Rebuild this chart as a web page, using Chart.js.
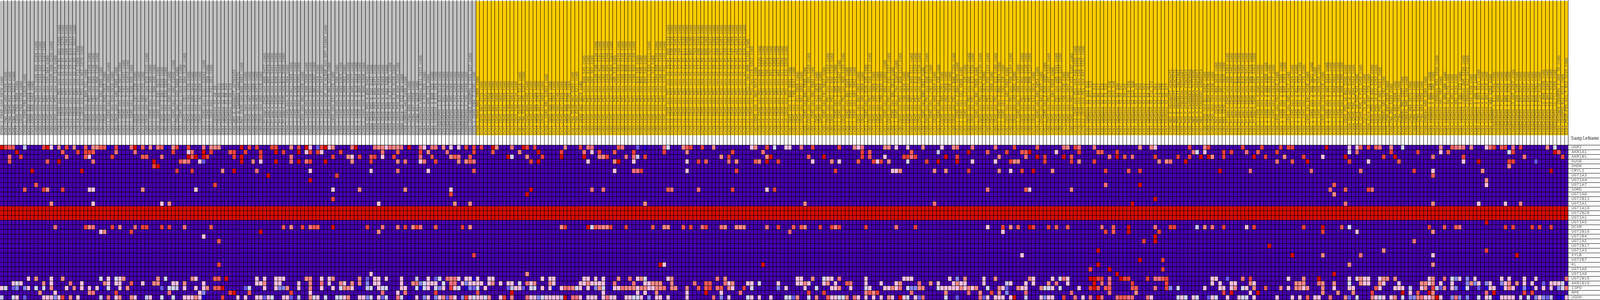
<!DOCTYPE html>
<html>
<head>
<meta charset="utf-8">
<title>Heat map</title>
<script src="https://cdn.jsdelivr.net/npm/chart.js@4/dist/chart.umd.min.js"></script>
<style>
html, body { margin: 0; padding: 0; background: #fff; overflow: hidden; }
canvas { display: block; }
</style>
</head>
<body>
<canvas id="heatmap" width="5044" height="768"></canvas>
<script>
// color ramp of the heat map, level 0 to level 11
var palette = ['#4500AD','#2700D1','#6B58EF','#8888FF','#C7C1FF','#D5D5FF','#FFC0E5','#FF8989','#FF7080','#FF5A5A','#EF4040','#D60C00'];

// samples, read in blocks of 103 columns
var samples0 = ['CY58_1_CD45_A10_S970_comb','Cy81_FNA_CD45_A02_S194_comb','Cy81_FNA_CD45_H12_S288_comb','Cy81_FNA_CD45_C11_S227_comb','Cy72_CD45_C02_S698_comb','Cy72_CD45_F03_S735_comb','CY58_1_CD45_F06_S1026_comb','Cy72_CD45_E03_S723_comb','Cy74_CD45_G06_S462_comb',
'cy80.Cd45.pos.PD1.pos.S189.H09.S189.comb','cy80.Cd45.pos.Pd1.neg.S194.A02.S194.comb','cy80.Cd45.pos.PD1.pos.S167.G11.S167.comb','cy80.Cd45.pos.PD1.pos.C04.S64.comb','cy80.Cd45.pos.Pd1.neg.S249.C09.S249.comb','cy80.Cd45.pos.PD1.pos.A12.S24.comb',
'cy79.p1.CD45.pos.PD1.pos.AS.C5.R1.G01.S265.comb','cy79.p1.CD45.pos.PD1.pos.AS.C5.R1.G06.S270.comb','cy79.p3.CD45.pos.PD1.pos.AS.C2.R1.G08.S464.comb','cy79.p1.CD45.pos.PD1.pos.AS.C5.R1.B10.S214.comb','cy79.p1.CD45.pos.PD1.neg.AS.C1.R2.D11.S527.comb',
'cy79.p4.CD45.pos.PD1.pos.F12.S360.comb','cy79.p4.CD45.pos.PD1.pos.H07.S379.comb','cy82.CD45.pos.3.B09.S21.comb','cy80.CD45.pos.PD1.pos.E05.S149.comb','cy80.CD45.pos.PD1.pos.E04.S148.comb','cy80.CD45.pos.PD1.pos.H06.S186.comb',
'cy82.CD45.pos.2.G03.S555.comb','cy72.CD45.pos.E03.S915.comb','cy53.1.CD45.pos.2.A09.S969.comb','cy82.CD45.pos.D10.S910.comb','cy82.CD45.pos.2.A05.S485.comb','cy53.1.CD45.pos.2.B05.S977.comb','cy53.1.CD45.pos.2.F07.S1027.comb','cy53.1.CD45.pos.2.E07.S1015.comb','cy53.1.CD45.pos.1.E08.S56.comb',
'cy74.CD45.pos.F07.S739.comb','cy74.CD45.pos.E11.S731.comb','cy74.CD45.pos.G09.S753.comb','cy80.CD45.pos.PD1.pos.D10.S142.comb','cy53.1.CD45.pos.1.E12.S60.comb','cy53.1.CD45.pos.1.D09.S45.comb','cy58.1.CD45.pos.E01.S625.comb','cy82.CD45.pos.2.D04.S520.comb','cy82.CD45.pos.2.B10.S502.comb','cy72.CD45.pos.E05.S917.comb',
'cy53.1.CD45.pos.2.H02.S1046.comb','cy82.CD45.pos.2.A10.S490.comb','cy53.1.CD45.pos.1.H10.S94.comb','cy80.CD45.pos.PD1.pos.D04.S136.comb','cy74.CD45.pos.F04.S736.comb','cy74.CD45.pos.G08.S944.comb','cy58.CD45.pos.E11.S635.comb','cy72.CD45.pos.C02.S698.comb','cy53.1.CD45.pos.2.G11.S1043.comb','cy53.1.CD45.pos.1.E11.S59.comb','cy53.1.CD45.pos.1.F01.S61.comb',
'CY67_CD45pos_S2_A9_S9','CY67_CD45pos_S2_B9_S21','CY67_CD45pos_S2_D3_S39','CY67_CD45pos_S2_D8_S44','CY67_CD45pos_S2_G6_S78','CY65_NBS_E_AGAGGATT_ACTGTATC','CY65_POS_H_CAAGGGA_CAACTCTC',
'cy84.Met.CD45.pos.B05.S881.comb','cy80.CD45.neg.C12.S468.comb','cy80.CD45.neg.A07.S391.comb','cy80.CD45.neg.A05.S389.comb','cy80.CD45.neg.H03.S471.comb','cy80.CD45.neg.D09.S429.comb',
'CY84_Primary_CD45_pos_H09_S477_comb','CY84_Primary_CD45_pos_H02_S470_comb','CY84_Primary_CD45_pos_D11_S431_comb','CY84_Primary_CD45_pos_E09_S441_comb','CY84_Primary_CD45_pos_G12_S468_comb','CY84_Primary_CD45_pos_B12_S406_comb',
'CY60_1_cd45_pos_4_G12_S84_comb','CY60_1_cd45_pos_3_H11_S383_comb','CY60_1_cd45_pos_3_C05_S317_comb','CY60_1_cd45_pos_3_E09_S351_comb','CY88_cd45_pos_G02_S458_comb','CY60_1_cd45_pos_3_B06_S306_comb','CY60_1_cd45_pos_3_E02_S338_comb','CY60_1_cd45_pos_3_B07_S307_comb','CY60_1_cd45_pos_4_B12_S24_comb','CY60_1_cd45_pos_4_D11_S47_comb',
'CY60_1_cd45_pos_HC_pos_HLDAR_pos_DOT_S1003_comb','CY60_1_cd45_pos_3_H01_S373_comb','CY88_cd45_pos_E11_S443_comb','CY60_1_cd45_pos_4_H02_S86_comb','CY60_1_cd45_pos_3_G03_S363_comb','CY60_1_cd45_pos_4_H09_S93_comb','CY60_1_cd45_pos_3_F11_S359_comb','CY60_1_cd45_pos_3_H05_S377_comb','CY60_1_cd45_pos_3_B10_S310_comb','CY60_1_cd45_pos_3_B04_S304_comb','CY60_1_cd45_pos_3_B08_S308_comb',
'CY89A_CD45_POS_4_B06_S402_comb','CY89A_CD45_POS_6_C07_S127_comb','CY89A_CD45_POS_4_H03_S471_comb','CY89A_CD45_POS_4_E09_S441_comb','CY89A_CD45_POS_4_A05_S389_comb','CY89A_CD45_POS_4_A02_S386_comb','CY89A_CD45_POS_10_E11_S251_comb'];

var samples1 = ['CY89A_CD45_POS_6_C09_S129_comb','CY89A_CD45_POS_10_E04_S244_comb','CY89A_Core_15_F12_S60_comb','CY89_CORE01_A02_S290_comb','CY75_1FNA_G09_S561_comb','CY75_1FNA_G07_S559_comb','CY75_1FNA_H11_S575_comb','CY94_cd45neg_cd90pos_B11_S311_comb','CY94_cd45pos_4_C01_S25_comb','CY94_cd45pos_G08_S176_comb','CY94_cd45pos_4_B08_S20_comb','CY94_cd45pos_4_E11_S59_comb',
'CY94CD45POS_1_B10_S118_comb','CY94CD45POS_1_E01_S145_comb','CY94CD45POS_1_H02_S182_comb','CY88CD45POS_7_G05_S269_comb','CY88CD45POS_7_F07_S259_comb','CY94CD45POS_1_C12_S132_comb','CY88CD45POS_2_F11_S455_comb','CY88CD45POS_2_F05_S449_comb','CY94_CD45NEG_CD90POS_2_C03_S27_comb','CY75_1_CD45_CD8_7_S205_comb',
'CY58_1_CD45_D03_S999_comb','Cy72_CD45_D07_S715_comb','Cy71_CD45_E03_S531_comb','Cy71_CD45_G06_S558_comb','Cy74_CD45_G02_S458_comb','Cy72_CD45_B02_S686_comb','Cy72_CD45_A11_S683_comb','Cy71_CD45_C01_S505_comb','Cy72_CD45_F05_S737_comb','Cy74_CD45_G08_S464_comb','Cy72_CD45_F02_S734_comb','Cy81_FNA_CD45_C02_S218_comb','Cy81_FNA_CD45_A05_S197_comb',
'Cy74_CD45_B06_S402_comb','Cy72_CD45_D04_S712_comb','Cy72_CD45_G06_S750_comb','Cy72_CD45_G07_S753_comb','Cy72_CD45_A12_S684_comb','CY58_1_CD45_G01_S1033_comb','Cy71_CD45_H09_S573_comb','Cy71_CD45_A09_S581_comb','Cy72_CD45_G02_S746_comb','Cy71_CD45_G07_S559_comb','Cy72_CD45_E05_S725_comb','Cy72_CD45_C09_S705_comb','Cy81_FNA_CD45_H07_S283_comb','Cy81_FNA_CD45_B07_S211_comb','Cy72_CD45_A02_S674_comb',
'cy80.Cd45.pos.PD1.pos.B09.S45.comb','cy80.Cd45.pos.PD1.pos.A05.S17.comb','cy80.Cd45.pos.PD1.pos.D07.S67.comb','cy80.Cd45.pos.PD1.pos.S136.F06.S136.comb','cy80.Cd45.pos.PD1.pos.S191.H11.S191.comb','cy80.Cd45.pos.PD1.pos.S162.G06.S162.comb','cy80.Cd45.pos.Pd1.neg.S340.G04.S340.comb','cy80.Cd45.pos.Pd1.neg.S364.H04.S364.comb','cy80.Cd45.pos.PD1.pos.A06.S18.comb','cy80.Cd45.pos.Pd1.neg.S243.C03.S243.comb','cy80.Cd45.pos.PD1.pos.S166.G10.S166.comb',
'cy80.Cd45.pos.Pd1.neg.S225.B09.S225.comb','cy80.Cd45.pos.Pd1.neg.S290.E02.S290.comb','cy80.Cd45.pos.PD1.pos.S160.G04.S160.comb','cy80.Cd45.pos.PD1.pos.B10.S46.comb','cy80.Cd45.pos.PD1.pos.B02.S38.comb','cy80.Cd45.pos.PD1.pos.B04.S40.comb','cy80.Cd45.pos.PD1.pos.S111.E03.S111.comb','cy80.Cd45.pos.PD1.pos.A11.S23.comb','cy80.Cd45.pos.Pd1.neg.S344.G08.S344.comb','cy80.Cd45.pos.PD1.pos.S109.E01.S109.comb','cy80.Cd45.pos.PD1.pos.S143.F01.S143.comb',
'cy79.p3.CD45.pos.PD1.pos.AS.C5.R1.D05.S233.comb','cy79.p3.CD45.pos.PD1.pos.AS.C2.R1.C08.S416.comb','cy79.p3.CD45.pos.PD1.pos.AS.C2.R1.F08.S452.comb','cy79.p3.CD45.pos.PD1.pos.AS.C2.R1.C04.S412.comb','cy79.p1.CD45.pos.PD1.neg.AS.C1.R2.E11.S539.comb','cy79.p3.CD45.pos.PD1.pos.AS.C2.R1.B12.S408.comb','cy79.p1.CD45.pos.PD1.pos.AS.C5.R1.B02.S206.comb','cy79.p1.CD45.pos.PD1.pos.AS.C5.R1.F03.S255.comb','cy79.p3.CD45.pos.PD1.pos.AS.C2.R1.E08.S440.comb','cy79.p1.CD45.pos.PD1.neg.AS.C1.R2.D02.S518.comb','cy79.p3.CD45.pos.PD1.pos.AS.C2.R1.B06.S498.comb',
'cy79.p1.CD45.pos.PD1.neg.AS.C1.R2.F07.S547.comb','cy79.p1.CD45.pos.PD1.pos.AS.C5.R1.A11.S395.comb','cy79.p1.CD45.pos.PD1.neg.AS.C1.R2.E08.S536.comb','cy79.p1.CD45.pos.PD1.pos.AS.C5.R1.H11.S287.comb','cy79.p1.CD45.pos.PD1.pos.AS.C5.R1.C03.S219.comb','cy79.p3.CD45.pos.PD1.pos.AS.C2.R1.F11.S455.comb','cy79.p1.CD45.pos.PD1.pos.AS.C5.R1.F07.S259.comb','cy79.p1.CD45.pos.PD1.pos.AS.C5.R1.A02.S194.comb','cy79.p1.CD45.pos.PD1.pos.AS.C5.R1.G10.S274.comb','cy79.p3.CD45.pos.PD1.pos.AS.C2.R1.D10.S430.comb',
'cy79.p1.CD45.pos.PD1L1.neg.D09.S1101.comb','cy79.p4.CD45.pos.PD1.neg.C10.S322.comb','cy82.CD45.pos.1.H09.S573.comb','cy79.p4.CD45.pos.PD1.pos.D06.S330.comb','cy79.p4.CD45.pos.PD1.pos.E01.S337.comb','cy79.p4.CD45.pos.PD1.pos.C06.S316.comb','cy79.p4.CD45.pos.PD1.pos.D01.S318.comb','cy79.p4.CD45.pos.PD1.pos.F10.S358.comb','cy79.p4.CD45.pos.PD1.pos.H02.S374.comb','cy79.p4.CD45.pos.PD1.pos.A11.S299.comb'];

var samples2 = ['cy79.p4.CD45.pos.PD1.pos.E10.S346.comb','cy82.CD45.pos.1.B09.S501.comb','cy82.CD45.pos.1.F09.S537.comb','cy72.CD45.pos.H11.S959.comb','cy72.CD45.pos.B07.S883.comb','cy58.1.CD45.pos.B02.S590.comb','cy80.CD45.pos.PD1.pos.G01.S169.comb','cy58.1.CD45.pos.H02.S662.comb','cy72.CD45.pos.A12.S876.comb','cy72.CD45.pos.A04.S868.comb',
'cy58.1.CD45.pos.F01.S637.comb','cy80.CD45.pos.PD1.pos.F07.S163.comb','cy80.CD45.pos.PD1.pos.E02.S146.comb','cy53.1.CD45.pos.1.D05.S41.comb','cy53.1.CD45.pos.2.D05.S1037.comb','cy80.CD45.pos.PD1.pos.H03.S183.comb','cy58.1.CD45.pos.B07.S595.comb','cy58.1.CD45.pos.C11.S611.comb','cy58.1.CD45.pos.G04.S652.comb','cy72.CD45.pos.D07.S907.comb','cy72.CD45.pos.A05.S869.comb',
'cy53.1.CD45.pos.1.D10.S46.comb','cy80.CD45.pos.PD1.pos.C03.S123.comb','cy72.CD45.pos.A08.S880.comb','cy74.CD45.pos.C11.S707.comb','cy72.CD45.pos.F09.S933.comb','cy53.1.CD45.pos.2.B03.S1003.comb','cy80.CD45.pos.PD1.pos.F01.S157.comb','cy58.1.CD45.pos.D01.S613.comb','cy53.1.CD45.pos.2.F04.S1024.comb','cy80.CD45.pos.PD1.pos.B09.S117.comb',
'cy72.CD45.pos.F06.S930.comb','cy72.CD45.pos.G09.S921.comb','cy80.CD45.pos.PD1.pos.E03.S111.comb','cy80.CD45.pos.PD1.pos.E10.S154.comb','cy80.CD45.pos.PD1.pos.C06.S126.comb','cy58.1.CD45.pos.B09.S597.comb','cy80.CD45.pos.PD1.pos.G08.S176.comb','cy53.1.CD45.pos.1.F07.S67.comb','cy72.CD45.pos.H06.S954.comb','cy53.1.CD45.pos.1.C12.S36.comb',
'cy74.CD45.pos.G05.S761.comb','cy72.CD45.pos.H02.S950.comb','cy72.CD45.pos.F12.S936.comb','cy80.CD45.pos.PD1.pos.E06.S150.comb','cy53.1.CD45.pos.2.B04.S976.comb','cy58.1.CD45.pos.A12.S588.comb','cy53.1.CD45.pos.1.C11.S35.comb','cy80.CD45.pos.PD1.pos.D05.S137.comb','cy80.CD45.pos.PD1.pos.E12.S156.comb','cy58.1.CD45.pos.B01.S589.comb',
'cy80.CD45.pos.PD1.pos.C10.S130.comb','cy72.CD45.pos.A10.S874.comb','cy80.CD45.pos.PD1.pos.C02.S122.comb','cy72.CD45.pos.E12.S888.comb','cy80.CD45.pos.PD1.pos.G12.S180.comb','cy53.1.CD45.pos.2.B02.S974.comb','cy53.1.CD45.pos.1.C02.S26.comb','cy82.CD45.pos.2.A02.S482.comb','cy80.CD45.pos.PD1.pos.F08.S164.comb','cy72.CD45.pos.C03.S891.comb',
'cy53.1.CD45.pos.1.G05.S77.comb','cy80.CD45.pos.PD1.pos.H02.S182.comb','cy80.CD45.pos.PD1.pos.D06.S138.comb','cy80.CD45.pos.PD1.pos.B06.S114.comb','cy72.CD45.pos.E12.S924.comb','cy58.1.CD45.pos.G05.S653.comb','cy74.CD45.pos.B03.S687.comb','cy53.1.CD45.pos.2.B10.S982.comb','cy80.CD45.pos.PD1.pos.A07.S103.comb','cy82.CD45.pos.2.G04.S556.comb',
'cy80.CD45.pos.PD1.pos.A05.S101.comb','cy80.CD45.pos.PD1.pos.E03.S147.comb','cy74.CD45.pos.F06.S738.comb','cy72.CD45.pos.G11.S947.comb','cy80.CD45.pos.PD1.pos.A11.S107.comb','cy79.p3.CD45.pos.PD1.neg.F09.S165.comb','cy79.p3.CD45.pos.PD1.neg.C09.S129.comb','cy79.p3.CD45.pos.PD1.neg.E07.S151.comb',
'CY67_CD45pos_S2_A12_S12','CY67_CD45pos_S2_B11_S23','CY67_CD45pos_S2_B3_S15','CY67_CD45pos_S2_B5_S17','CY67_CD45pos_S2_B7_S19','CY67_CD45pos_S2_C8_S32','CY67_CD45pos_S2_D10_S46','CY67_CD45pos_S2_D12_S48','CY67_CD45pos_S2_D4_S40','CY67_CD45pos_S2_D5_S41','CY67_CD45pos_S2_D9_S45','CY67_CD45pos_S2_E10_S58','CY67_CD45pos_S2_E12_S60','CY67_CD45pos_S2_E1_S49','CY67_CD45pos_S2_E2_S50','CY67_CD45pos_S2_E4_S52','CY67_CD45pos_S2_E9_S57','CY67_CD45pos_S2_F12_S72','CY67_CD45pos_S2_F1_S61','CY67_CD45pos_S2_F9_S69','CY67_CD45pos_S2_G3_S75','CY67_CD45pos_S2_G5_S77',
'CY65_NBS_E_AGAAGATT_ACGCAATC','CY65_NBS_E_AGAAGATT_ACACTCTC'];

var samples3 = ['CY65_POS_E_AGGTGCTT_TGCTTGGT','CY65_POS_F_ATGCGCAA_TGTCAAGT','CY65_POS_F_ATGCGCAA_CTGCCGAT','CY65_POS_G_CAAGGGCA_CTGCGGAG','CY67_NBS_A_CAAGGGCA_TCTTACGC','CY67_NBS_A_CAAGGGCA_AAGTGGCT','CY67_NBS_A_CAAGAGCC_AAGGGATA',
'cy80.CD45.neg.B11.S407.comb','cy80.CD45.neg.E04.S436.comb','cy80.CD45.neg.F04.S448.comb','cy84.Met.CD45.pos.B02.S878.comb','cy84.Met.CD45.pos.G07.S943.comb','cy84.Met.CD45.pos.F11.S935.comb',
'CY84_Primary_CD45_pos_A09_S393_comb','CY84_Primary_CD45_pos_G06_S462_comb','CY84_Primary_CD45_pos_B11_S407_comb','CY84_Primary_CD45_pos_B09_S405_comb','CY84_Primary_CD45_pos_B10_S406_comb','CY84_Primary_CD45_pos_C03_S411_comb','CY84_Primary_CD45_pos_D09_S429_comb','CY84_Primary_CD45_pos_G07_S463_comb',
'CY60_1_cd45_pos_4_G06_S78_comb','CY60_1_cd45_pos_4_B10_S22_comb','CY60_1_cd45_pos_3_G03_S459_comb','CY60_1_cd45_pos_4_D03_S39_comb','CY60_1_cd45_pos_4_C03_S27_comb','CY88_cd45_pos_F07_S643_comb','CY60_1_cd45_pos_3_E05_S295_comb','CY60_1_cd45_pos_3_B05_S353_comb','CY88_cd45_pos_G05_S417_comb','CY60_1_cd45_pos_4_C10_S34_comb',
'CY60_1_cd45_pos_4_B11_S23_comb','CY60_1_cd45_pos_3_C07_S319_comb','CY60_1_cd45_pos_4_G07_S79_comb','CY88_cd45_pos_E07_S439_comb','CY60_1_cd45_pos_3_D09_S621_comb','CY60_1_cd45_pos_4_A09_S9_comb','CY60_1_cd45_pos_3_D09_S45_comb','CY88_cd45_pos_C10_S410_comb','CY60_1_cd45_pos_3_G07_S371_comb',
'CY60_1_cd45_pos_3_C11_S371_comb','CY60_1_cd45_pos_3_B03_S591_comb','CY60_1_cd45_pos_3_G05_S365_comb','CY60_1_cd45_pos_3_H08_S380_comb','CY89_CD45_POS_10_B02_S206_comb','CY89A_CD45_POS_6_A07_S103_comb','CY89A_CD45_POS_4_D04_S424_comb','CY89A_Core_15_C07_S31_comb','CY89A_CD45_POS_4_F12_S456_comb','CY89_Core_15_H07_S283_comb',
'CY89A_Core_15_G07_S79_comb','CY89_CD45_POS_10_G02_S262_comb','CY89_CD45_POS_10_E12_S252_comb','CY89_CD45_POS_6_H01_S181_comb','CY89_CORE01_A04_S292_comb','CY75_1FNA_E07_S535_comb','CY89_FNA_D02_S230_comb','CY75_1FNA_H02_S566_comb','CY75_1FNA_F01_S541_comb','CY89_CORE01_D03_S327_comb',
'CY89_CORE01_D06_S330_comb','CY75_1FNA_H09_S573_comb','CY89_CORE_B12_S312_comb','CY75_1FNA_A12_S492_comb','CY75_1FNA_G04_S556_comb','CY89_CORE01_A06_S294_comb','CY94_cd45pos_4_D02_S38_comb','CY94_cd45pos_4_H02_S86_comb','CY94_cd45neg_cd90pos_D02_S326_comb','CY94_cd45pos_A01_S97_comb',
'CY94_cd45pos_4_H04_S88_comb','CY94_cd45pos_G02_S170_comb','CY94_cd45pos_4_A01_S1_comb','CY94_cd45pos_D02_S134_comb','CY94_cd45pos_4_G01_S73_comb','CY94_cd45neg_cd90pos_D06_S330_comb','CY94_cd45neg_cd90pos_G12_S372_comb','CY94_cd45pos_C10_S130_comb','CY94_cd45pos_4_A05_S5_comb','CY94_cd45pos_4_D03_S111_comb',
'CY94_cd45pos_4_B11_S23_comb','CY94_cd45pos_4_B07_S19_comb','CY94_cd45pos_H03_S183_comb','CY94CD45POS_1_E11_S155_comb','CY94CD45POS_1_H08_S188_comb','CY88CD45POS_7_B11_S127_comb','CY94CD45POS_1_D05_S125_comb','CY94CD45POS_1_E12_S156_comb','CY88CD45POS_13_G07_S367_comb','CY94CD45POS_1_A09_S105_comb',
'CY88CD45POS_7_E01_S241_comb','CY88CD45POS_7_B03_S207_comb','CY88CD45POS_2_E05_S437_comb','CY94CD45POS_1_D10_S142_comb','CY88CD45POS_2_B05_S401_comb','CY88CD45POS_2_C10_S130_comb','CY88CD45POS_13_B09_S309_comb','CY88CD45POS_13_B07_S307_comb','CY88CD45POS_13_D10_S310_comb','CY88CD45POS_13_F11_S359_comb',
'CY94_CD45NEG_CD90POS_2_A05_S5_comb','CY94_CD45POS_B12_S216_comb','CY84_PRIM_POS_A11_T_B12_S216_comb'];

var genes = ['UGP2','AKR1A1','AKR1B1','GUSB','DHDH','CRYL1','UGT2A3','UGT1A4','UGT1A7','SORD','UGT1A8','UGT2B11','UGT2A1','UGT1A10','UGT2B28','UGT1A1','UGT1A5','DCXR','UGT2B10','UGT2B4','UGT2A2','UGT2B17','UGT1A3','XYLB','UGT2B7','KL','UGT1A6','UGT1A9','UGT2B15','AKR1B10','ISPD','RPE','UGDH'];

// the class bar: how many samples in each class, and its color
var classCounts = [125, 287];
var classColors = ['#C0C0C0', '#FFCC00'];

// level of a row where no cell is listed for it
var rowBase = [0,0,0,0,0,0,0,0,0,0,0,0,0,11,11,11,0,0,0,0,0,0,0,0,0,0,0,0,0,0,0,0,0];

// cells that differ from the base: one list per block, column,level,column,level...
var r_UGP2 = [
 [0,11,1,10,2,9,3,9,6,4,11,10,12,11,13,6,15,7,17,10,19,7,22,9,24,7,25,7,26,9,27,9,28,1,30,10,34,8,35,11,37,9,39,7,41,8,42,9,43,1,45,7,46,10,49,10,53,8,55,7,56,7,57,7,63,11,65,10,67,10,71,10,72,10,76,7,78,10,80,11,81,6,83,2,84,10,85,11,86,6,87,7,92,8,93,11,98,8,99,7,100,7,101,6,102,8],
 [0,7,1,7,2,8,4,11,7,8,8,6,10,8,11,8,13,7,15,6,17,6,19,10,21,10,23,10,26,11,27,7,31,8,34,11,35,10,37,10,45,7,49,10,51,8,52,8,59,9,60,8,64,2,66,1,71,8,72,5,76,7,77,9,78,10,81,10,84,7,94,6,95,7,98,10,100,5],
 [0,6,1,6,4,8,7,10,14,10,18,7,19,6,20,8,26,7,27,7,29,6,32,6,36,7,41,6,44,7,45,8,49,8,55,8,60,10,66,9,73,8,74,7,76,10,77,8,81,8,93,7,96,7,97,6],
 [3,10,7,7,8,10,17,10,22,10,27,10,29,10,30,10,39,11,45,6,47,6,48,9,50,10,52,9,53,8,56,7,59,5,69,7,72,9,73,8,74,7,75,8,77,7,81,6,82,8,83,10,85,9,86,10,87,1,88,8,90,10,97,7,99,5]];
var r_AKR1A1 = [
 [4,11,16,9,20,10,22,10,23,10,24,9,30,8,35,8,45,10,49,6,50,8,53,11,55,10,60,9,61,10,64,10,68,10,72,11,74,10,78,11,80,6,81,10,83,10,84,6,89,10,100,8],
 [1,9,7,10,9,7,14,8,21,10,26,9,33,7,38,11,44,10,50,8,52,6,54,10,58,9,63,10,71,10,77,7,89,10,97,8],
 [20,10,22,9,33,9,40,4,48,11,53,9,58,10,62,9,63,9,64,11,71,6,77,10,82,9,83,9,87,10],
 [4,8,5,5,7,6,12,10,14,10,18,8,21,9,26,10,45,5,47,8,56,10,63,10,69,6,71,9,87,5,88,10,99,11,100,9]];
var r_AKR1B1 = [
 [2,8,5,10,17,8,22,9,23,6,29,10,37,9,38,9,42,8,49,11,50,9,51,11,53,11,54,10,61,10,63,11,68,10,76,8,87,10,91,7,92,6,94,10,97,9,98,10,100,6],
 [0,10,7,8,10,9,15,7,16,9,17,8,20,9,30,11,31,5,35,7,39,10,44,11,50,11,54,7,55,7,56,10,61,8,63,8,64,4,66,10,86,7,88,10,98,7,99,11],
 [6,9,10,11,20,10,22,9,26,6,31,10,32,10,33,8,34,10,42,11,45,10,56,7,63,8,66,11,68,10,73,11,75,9,85,8,87,11,89,9,91,8,97,10],
 [0,10,3,10,6,11,8,11,9,7,12,10,20,11,23,10,28,7,33,10,38,6,44,11,54,10,57,11,67,8,75,10,91,8,101,10]];
var r_GUSB = [
 [2,9,12,9,15,11,24,8,40,11,47,9,48,7,49,8,52,6,53,2,63,11,66,7,68,6,72,11,76,8,78,11,80,8,81,10,85,11,92,7,97,10],
 [1,7,3,8,7,6,8,8,11,10,17,7,19,7,20,9,21,8,36,10,38,11,51,6,58,7,59,11,63,6,77,6,80,10,82,9,88,8,90,7,95,9,96,7,98,11,101,10],
 [7,6,12,7,14,6,19,9,23,10,24,6,25,10,27,7,32,5,37,10,40,11,45,11,49,6,55,6,59,10,60,7,61,7,68,10,75,10,77,7,81,10,98,7,100,7,101,8],
 [2,11,26,8,30,9,34,11,45,10,50,6,58,9,75,6,79,11,87,10,88,10,94,2]];
var r_DHDH = [[40,10,41,11],[],[],[87,7]];
var r_CRYL1 = [
 [8,11,21,11,46,10,50,10,58,7,61,11,67,8,81,6,97,6],
 [1,8,9,6,21,9,58,6,63,8,64,8,65,10,77,6,90,10],
 [13,10,28,6,29,6,30,7,39,7,42,7,48,10,56,7,59,6,62,10,65,11,70,7,84,10,90,9,93,10],
 [11,11,19,8,35,8,48,8,62,10,67,6,80,7,98,11]];
var r_UGT2A3 = [[70,11,88,10],[],[],[67,9]];
var r_UGT1A4 = [[81,11],[],[],[81,7]];
var r_UGT1A7 = [[9,9,56,10],[],[84,8,93,11],[41,9,81,6]];
var r_SORD = [
 [6,9,11,10,12,7,16,10,23,6,24,6,37,7,51,6,87,6,94,7],
 [3,7,15,6,36,11,52,8,55,8,72,9,73,8,80,8,89,10,98,6,100,10],
 [53,8,63,9,64,6,75,7],
 [40,8,44,9,50,10,51,8]];
var r_UGT1A8 = [[],[15,10,35,11],[],[41,7]];
var r_UGT2B11 = [[87,10],[],[97,11],[]];
var r_UGT2A1 = [[13,7,24,6,42,6,44,7,99,6],[16,7,20,7,66,7],[5,7,39,8,91,11],[44,8,67,7,79,6,86,6,90,7]];
var r_UGT1A10 = [[],[],[],[]];
var r_UGT2B28 = [[],[],[],[]];
var r_UGT1A1 = [[],[],[],[]];
var r_UGT1A5 = [[],[],[],[81,11]];
var r_DCXR = [
 [14,8,22,10,23,7,24,8,29,10,31,7,35,8,37,10,38,10,42,10,44,10,48,8,55,9,74,9,76,7,79,10,81,8,82,9,83,9,87,11,96,10,100,8],
 [1,8,3,10,5,7,6,10,7,8,11,9,18,10,20,7,44,7,45,10,51,11,52,5,53,9,54,8,55,7,56,7,57,10,61,10,68,9,71,7,72,7,76,9,78,10,81,8,82,10,86,8,87,7,90,7,91,7,92,7,98,8,101,10],
 [2,9,4,9,5,7,9,10,12,10,13,7,14,10,21,10,29,8,34,10,53,6,57,10,59,7,61,9,64,11,65,10,69,10,71,9,74,9,83,8,86,9,90,11,97,8,101,10,102,10],
 [5,4,7,7,9,8,12,10,18,6,20,10,33,10,38,11,43,9,45,5,66,10,70,9,73,9,74,8,86,10,88,10,93,10,95,10,98,10]];
var r_UGT2B10 = [[26,6,27,7,34,10,68,11,99,7],[],[1,8,57,6,84,10,86,9,90,11,98,10],[38,10,47,6,67,7]];
var r_UGT2B4 = [[53,6],[],[97,11],[]];
var r_UGT2A2 = [[57,9],[],[94,10,97,11],[62,8]];
var r_UGT2B17 = [[],[],[],[24,11]];
var r_UGT1A3 = [[],[],[82,11],[54,7,81,10]];
var r_XYLB = [[],[21,10],[62,6],[30,11,38,7,48,8,67,6,89,11]];
var r_UGT2B7 = [[],[],[93,11,99,10],[]];
var r_KL = [[57,10],[70,11,71,6,97,11],[82,11],[45,7,67,7]];
var r_UGT1A6 = [[],[],[80,10,85,11,99,10],[]];
var r_UGT1A9 = [[97,6],[35,7],[87,11],[41,11]];
var r_UGT2B15 = [
 [7,6,9,7,13,6,16,7,26,5,28,6,30,5,31,6,32,7,41,7,43,5,50,7,51,6,56,9,57,9,59,11,67,6,69,6,72,6,73,6,74,6,80,7,81,7,84,6,86,6,87,7,94,7,96,2,98,6,99,6,101,6],
 [2,6,6,4,9,6,11,2,12,5,14,8,15,7,16,8,17,6,19,6,20,6,21,1,22,6,25,6,26,6,39,6,41,6,42,6,50,6,51,6,53,6,55,6,59,7,62,8,64,6,65,7,66,5,72,6,73,7,85,8,87,7],
 [3,6,4,6,7,7,10,5,11,6,12,6,14,8,21,6,31,6,32,6,33,6,43,6,45,3,47,7,52,6,55,7,64,7,65,6,70,6,72,5,73,8,74,6,80,11,81,11,82,10,83,10,85,8,88,11,89,10,90,10,95,10,97,8,98,8,99,9,100,10],
 [9,6,10,6,13,2,17,8,19,10,29,6,33,7,37,11,45,6,47,6,48,7,49,6,50,6,53,6,54,7,55,7,57,7,66,6,67,7,70,8,72,5,73,3,74,6,76,3,78,6,85,6,87,6,91,6,94,6,102,8]];
var r_AKR1B10 = [
 [3,6,4,5,5,6,11,7,13,6,18,8,21,6,27,7,28,6,30,6,31,6,34,9,37,6,40,7,41,7,45,6,46,6,48,7,53,6,67,6,68,6,69,7,72,6,73,6,78,6,81,7,84,8,86,6,89,7,90,6,92,7,94,7,96,3,98,6,99,6],
 [2,6,5,7,6,8,7,3,8,5,9,6,10,6,11,6,13,5,15,8,16,8,18,6,19,3,20,6,21,6,22,6,23,6,25,6,26,7,28,6,30,6,31,6,33,5,35,8,36,6,37,7,41,7,42,6,49,6,50,6,51,7,52,6,53,6,54,6,55,6,58,8,63,8,66,6,67,6,68,7,69,7,70,7,73,7,79,8,82,9,83,9,87,8,88,6,89,7,93,6,94,6,96,5,101,6],
 [3,6,4,6,5,7,6,6,10,6,11,7,13,6,16,9,17,8,21,6,25,6,29,6,30,7,35,8,38,7,40,6,44,6,45,7,46,6,47,6,52,6,58,4,59,6,63,6,65,6,69,7,71,8,74,6,81,11,83,8,85,8,91,10,100,10],
 [9,6,11,6,14,6,15,6,19,7,20,6,31,7,32,7,33,7,37,8,38,7,41,7,45,5,48,7,49,6,50,6,53,7,54,6,58,6,64,7,65,7,66,6,67,7,69,6,72,6,76,3,77,7,78,3,79,6,81,3,82,6,85,3,86,6,87,7,89,7,91,6,93,6,96,2,98,6,99,6,100,6,101,5]];
var r_ISPD = [
 [0,6,1,5,3,2,4,3,6,3,7,6,9,5,11,5,13,7,17,6,19,7,21,6,23,6,25,6,26,1,28,5,31,6,33,7,42,2,44,5,45,5,46,4,48,6,51,6,53,6,54,7,56,9,57,9,58,11,64,2,65,5,69,6,72,6,73,3,74,3,75,7,78,6,81,7,84,6,87,6,89,5,90,7,91,7,92,6,94,1,96,4,97,5,99,6,100,5,101,5],
 [2,6,3,6,6,5,7,1,8,5,9,6,11,5,12,3,13,6,15,10,16,6,17,5,19,1,20,3,21,2,22,5,24,6,30,2,31,4,32,6,33,6,34,2,36,5,37,5,39,6,41,6,42,1,44,6,45,8,46,8,47,7,48,5,49,6,51,6,53,3,54,7,55,5,57,1,58,6,59,6,60,8,61,7,62,7,63,7,64,6,65,7,66,7,67,6,68,6,69,7,70,7,71,8,73,7,74,7,77,7,80,9,82,9,83,10,85,8,86,9,88,7,89,6,92,10,94,5,101,3],
 [0,6,5,6,8,5,12,6,13,6,14,7,17,6,21,5,22,6,26,6,27,6,28,7,29,6,30,8,32,5,33,3,34,3,35,7,36,7,40,5,41,6,42,6,43,6,44,6,45,6,46,7,47,6,48,7,49,6,50,7,53,5,56,7,57,6,58,2,61,7,62,6,63,6,67,7,68,5,69,5,70,6,72,5,77,6,80,10,81,11,82,9,84,9,85,9,91,9,92,9,97,8,100,10,101,3],
 [0,5,7,6,11,6,12,6,14,6,15,7,17,5,18,6,20,7,23,9,27,7,29,6,31,7,32,7,33,6,34,7,38,7,41,6,45,6,46,6,52,9,53,6,57,6,58,6,59,6,61,4,64,6,65,7,67,10,68,4,69,2,70,7,72,6,73,3,75,1,76,5,79,2,81,1,82,6,83,6,85,1,86,6,87,7,88,6,90,1,91,3,92,1,94,6,96,6,98,6,100,3,101,5,102,8]];
var r_RPE = [
 [10,7,14,6,23,7,24,8,30,10,44,8,52,6,53,3,60,10,61,11,65,9,76,10,81,6,100,8],
 [1,6,3,8,11,10,22,9,31,11,55,6,64,6,66,6,69,7,77,6,82,11,86,6,91,8],
 [6,10,10,10,21,7,22,9,23,7,24,10,33,8,42,7,48,8,51,7,54,10,56,7,58,3,63,8,75,8,85,8,92,7],
 [12,10,14,11,19,6,21,11,38,7,42,7,46,7,51,10,59,11,61,6,63,9,66,11,67,7,81,8,83,11,91,10,93,10]];
var r_UGDH = [
 [0,4,3,5,4,6,6,2,11,6,12,6,13,6,14,3,15,6,16,10,18,7,20,6,26,4,28,8,30,6,31,7,34,7,35,6,38,4,39,6,42,5,45,5,48,6,49,6,50,6,51,7,52,6,53,1,58,10,62,6,64,6,67,6,68,6,69,2,70,6,71,5,74,6,75,6,76,2,78,4,81,7,82,5,83,6,85,5,88,5,89,5,90,6,91,7,94,6,95,6,96,3,97,5,99,6,100,2,101,5],
 [1,8,2,5,4,1,6,6,8,3,9,6,11,3,12,6,13,7,14,2,15,8,16,6,18,3,19,10,20,6,21,5,22,6,23,6,24,5,25,7,28,6,29,10,31,7,35,8,36,6,37,6,38,3,39,5,40,6,41,6,42,6,43,6,44,4,45,11,47,8,48,8,49,6,51,6,52,6,53,6,55,6,56,8,57,6,58,6,61,6,62,6,63,5,64,5,65,6,67,3,69,6,70,6,72,6,77,6,84,8,86,3,88,6,93,5,94,6,96,6,99,6],
 [0,5,1,5,2,2,3,7,6,5,8,7,11,9,12,6,13,6,14,5,15,5,16,7,18,8,19,6,21,6,23,6,25,6,27,7,28,6,30,11,31,6,32,5,34,6,35,2,36,8,42,5,45,2,51,8,52,2,53,6,55,6,56,6,57,6,59,6,60,11,63,4,67,6,68,3,69,6,70,6,72,1,73,10,76,8,78,6,80,8,82,11,83,8,87,8,88,9,89,9,90,8,91,8,95,8,96,6],
 [0,5,1,6,2,5,4,6,5,5,8,2,9,6,10,5,13,6,16,6,17,5,18,5,20,6,26,6,30,6,32,6,34,9,36,6,37,6,40,8,44,7,45,2,47,5,51,7,52,6,53,5,54,6,56,6,57,7,59,5,61,3,62,3,63,7,64,8,65,6,66,6,67,7,68,11,69,6,72,3,73,8,74,3,76,3,79,5,81,6,82,5,84,1,85,6,86,6,87,6,88,6,90,5,92,5,94,3,95,6,96,3,97,2,98,4,100,1,101,1,102,6]];

var rowCells = [r_UGP2,r_AKR1A1,r_AKR1B1,r_GUSB,r_DHDH,r_CRYL1,r_UGT2A3,r_UGT1A4,r_UGT1A7,r_SORD,r_UGT1A8,r_UGT2B11,r_UGT2A1,r_UGT1A10,r_UGT2B28,r_UGT1A1,r_UGT1A5,r_DCXR,r_UGT2B10,r_UGT2B4,r_UGT2A2,r_UGT2B17,r_UGT1A3,r_XYLB,r_UGT2B7,r_KL,r_UGT1A6,r_UGT1A9,r_UGT2B15,r_AKR1B10,r_ISPD,r_RPE,r_UGDH];

var BLOCK = 103;
var sampleNames = samples0.concat(samples1, samples2, samples3);

// the browser may give us less than 5044 px, so keep the whole chart inside the window
var canvas = document.getElementById('heatmap');
var FULL_W = 5044;
canvas.width = Math.min(window.innerWidth || FULL_W, FULL_W);
var hScale = canvas.width / FULL_W;

// class color of every sample
var barColors = [];
classCounts.forEach(function (n, i) {
    for (var k = 0; k < n; k++) barColors.push(classColors[i]);
});

// one dataset per gene, the row index is the value on the y axis
function datasetForRow(r) {
    var cols = [];
    var vals = [];
    for (var c = 0; c < sampleNames.length; c++) {
        cols.push(palette[rowBase[r]]);
        vals.push([r, r + 1]);
    }
    rowCells[r].forEach(function (list, b) {
        for (var i = 0; i < list.length; i += 2) {
            cols[b * BLOCK + list[i]] = palette[list[i + 1]];
        }
    });
    return { label: genes[r], data: vals, backgroundColor: cols };
}

// y axis unit is one row, 12 px. Row 0 starts 371 px from the top
var ROW_PX = 12;
var datasets = [{
    label: 'class',
    data: sampleNames.map(function () { return [-368 / ROW_PX, -25 / ROW_PX]; }),
    backgroundColor: barColors
}];
genes.forEach(function (g, r) { datasets.push(datasetForRow(r)); });

// sample names inside the class bar, and the header of the gene column
var textPlugin = {
    id: 'heatmapText',
    afterDraw: function (chart) {
        var ctx = chart.ctx;
        var xs = chart.scales.x;
        var ys = chart.scales.y;
        ctx.save();
        ctx.fillStyle = '#5e5e5e';
        ctx.font = '10px "Liberation Mono"';
        ctx.textAlign = 'left';
        ctx.textBaseline = 'alphabetic';
        var bottom = ys.getPixelForValue(-25 / ROW_PX) - 1;
        sampleNames.forEach(function (name, c) {
            ctx.save();
            ctx.translate(xs.getPixelForValue(c) + 3.5, bottom);
            ctx.rotate(-Math.PI / 2);
            ctx.fillText(name, 0, 0);
            ctx.restore();
        });
        ctx.fillStyle = '#333';
        ctx.font = '12px "Liberation Mono"';
        ctx.fillText('SampleName', xs.right + 7, ys.getPixelForValue(-1) - 1);
        ctx.restore();
    }
};

new Chart(canvas, {
    type: 'bar',
    data: { labels: sampleNames, datasets: datasets },
    options: {
        responsive: false,
        animation: false,
        devicePixelRatio: 1,
        layout: { padding: 0 },
        datasets: { bar: { grouped: false, barPercentage: 1, categoryPercentage: 1, borderWidth: 0 } },
        plugins: { legend: { display: false }, tooltip: { enabled: false }, title: { display: false } },
        events: [],
        scales: {
            x: {
                type: 'category',
                offset: true,
                ticks: { display: false },
                border: { display: false },
                grid: { offset: true, color: '#000', lineWidth: 1, z: 1, drawTicks: false },
                afterFit: function (s) { s.height = 0; }
            },
            y: {
                type: 'linear',
                position: 'right',
                reverse: true,
                min: -371 / ROW_PX,
                max: 397 / ROW_PX,
                border: { display: false },
                afterBuildTicks: function (s) {
                    var t = [];
                    for (var i = 0; i <= genes.length; i++) t.push({ value: i });
                    s.ticks = t;
                },
                afterFit: function (s) { s.width = 100 * hScale; },
                grid: { color: '#000', lineWidth: 1, z: 1, tickLength: 100, tickColor: '#000' },
                ticks: {
                    autoSkip: false,
                    padding: -92,
                    labelOffset: 6,
                    color: '#5e5e5e',
                    font: { family: '"Liberation Mono"', size: 11 },
                    callback: function (v) { return genes[v] || ''; }
                }
            }
        }
    },
    plugins: [textPlugin]
});
</script>
</body>
</html>
